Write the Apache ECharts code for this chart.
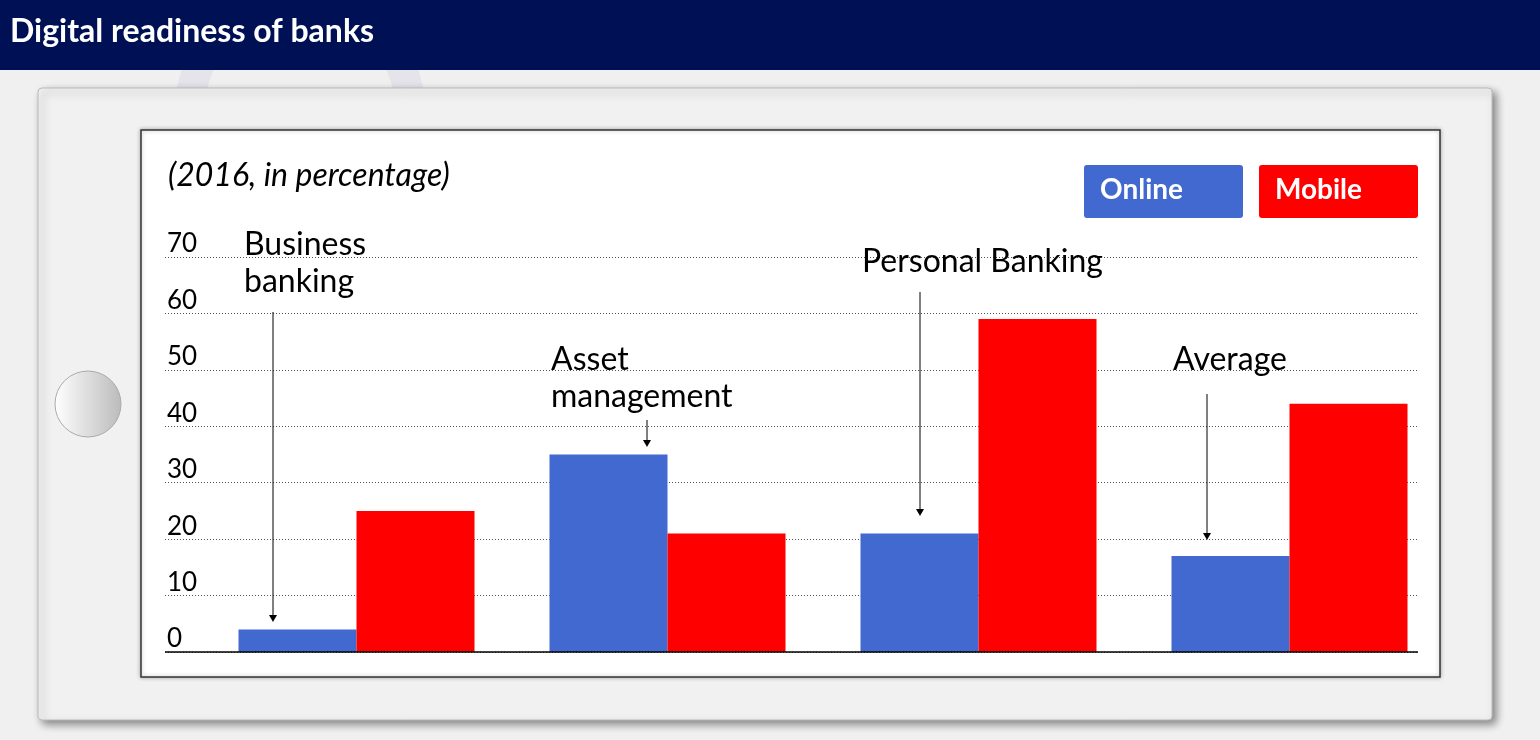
<!DOCTYPE html>
<html><head><meta charset="utf-8">
<script src="https://cdn.jsdelivr.net/npm/echarts@6/dist/echarts.min.js"></script>
<style>html,body{margin:0;padding:0;background:#f0f0f0}#c{width:1540px;height:740px}</style>
</head><body><div id="c"></div>
<script>
var categories = ['Business banking', 'Asset management', 'Personal Banking', 'Average'];
var onlineValues = [4, 35, 21, 17];
var mobileValues = [25, 21, 59, 44];
var yTicks = [0, 10, 20, 30, 40, 50, 60, 70];

var chart = echarts.init(document.getElementById('c'));
var F = 'Lato';

function arrow(x, y1, y2){
  return [
    {type:'line', shape:{x1:x,y1:y1,x2:x,y2:y2-6}, style:{stroke:'#000',lineWidth:1}, z:10},
    {type:'polygon', shape:{points:[[x-4,y2-7],[x+4,y2-7],[x,y2]]}, style:{fill:'#000'}, z:10}
  ];
}
function label(x, y, t){
  return {type:'text', left:x, top:y, style:{text:t, font:'32px '+F, fill:'#000', lineHeight:37}, z:10};
}

var g = [
  {type:'circle', shape:{cx:300,cy:110,r:110}, style:{fill:'none',stroke:'#e4e4ea',lineWidth:30}, z:-20},
  {type:'rect', shape:{x:0,y:0,width:1540,height:70}, style:{fill:'#001055'}, z:-5},
  {type:'text', left:10, top:16, style:{text:'Digital readiness of banks', font:'bold 32px '+F, fill:'#fff'}},
  {type:'rect', shape:{x:38,y:88,width:1454,height:632,r:4}, style:{fill:'#f1f1f1',stroke:'#bbb',lineWidth:1,shadowBlur:8,shadowOffsetX:4,shadowOffsetY:4,shadowColor:'rgba(0,0,0,0.45)'}, z:-10},
  {type:'rect', shape:{x:141,y:130,width:1299,height:547}, style:{fill:'#fff',stroke:'#333',lineWidth:1.5,shadowBlur:4,shadowColor:'rgba(0,0,0,0.3)'}, z:-9},
  {type:'circle', shape:{cx:88,cy:404,r:33}, style:{fill:new echarts.graphic.LinearGradient(0,0,1,0,[{offset:0,color:'#fff'},{offset:1,color:'#bbb'}]),stroke:'#aaa',lineWidth:1}, z:-8},
  {type:'text', left:168, top:160, style:{text:'(2016, in percentage)', font:'italic 32px '+F, fill:'#000'}},
  {type:'rect', shape:{x:1084,y:165,width:159,height:53,r:3}, style:{fill:'#4169d0'}},
  {type:'text', left:1100, top:176, style:{text:'Online', font:'bold 28px '+F, fill:'#fff'}},
  {type:'rect', shape:{x:1259,y:165,width:159,height:53,r:3}, style:{fill:'#ff0000'}},
  {type:'text', left:1275, top:176, style:{text:'Mobile', font:'bold 28px '+F, fill:'#fff'}},
  label(244, 226, 'Business\nbanking'),
  label(551, 341, 'Asset\nmanagement'),
  label(862, 243, 'Personal Banking'),
  label(1173, 341, 'Average')
];
g = g.concat(arrow(273, 312, 622), arrow(647, 420, 447), arrow(920, 292, 516), arrow(1207, 394, 540));

chart.setOption({
  animation:false,
  graphic:g,
  grid:[
    {left:165, right:122, top:257, bottom:88},
    {left:201, right:95, top:257, bottom:88}
  ],
  xAxis:[
    {gridIndex:0, type:'value', min:0, max:1, show:false},
    {gridIndex:1, type:'category', data:categories, axisLine:{show:false}, axisTick:{show:false}, axisLabel:{show:false}}
  ],
  yAxis:[
    {gridIndex:0, type:'value', min:0, max:70, interval:10,
     axisLine:{show:false}, axisTick:{show:false},
     axisLabel:{inside:true, verticalAlign:'bottom', margin:2, color:'#000', fontFamily:F, fontSize:26,
       formatter:function(v){return yTicks.indexOf(v)>=0?String(v):'';}},
     splitLine:{lineStyle:{color:'#555', type:[1,2], width:1}}},
    {gridIndex:1, type:'value', min:0, max:70, show:false}
  ],
  series:[
    {type:'line', xAxisIndex:0, yAxisIndex:0, data:[], markLine:{silent:true, symbol:'none', label:{show:false}, lineStyle:{color:'#000', type:'solid', width:1.5}, data:[{yAxis:0}]}},
    {name:'Online', type:'bar', xAxisIndex:1, yAxisIndex:1, data:onlineValues, barWidth:118, barGap:'0%', itemStyle:{color:'#4169d0'}},
    {name:'Mobile', type:'bar', xAxisIndex:1, yAxisIndex:1, data:mobileValues, barWidth:118, barGap:'0%', itemStyle:{color:'#ff0000'}}
  ]
});
</script></body></html>
